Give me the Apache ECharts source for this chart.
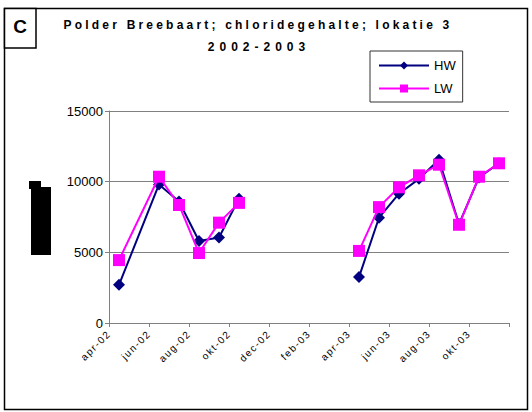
<!DOCTYPE html>
<html>
<head>
<meta charset="utf-8">
<script src="https://cdn.jsdelivr.net/npm/echarts@6/dist/echarts.min.js"></script>
<style>
  html, body { margin: 0; padding: 0; background: #fff; }
  #chart { width: 532px; height: 412px; }
</style>
</head>
<body>
<div id="chart"></div>
<script>
// Month slots on the time axis (one slot per month)
const months = ['apr-02','mei-02','jun-02','jul-02','aug-02','sep-02','okt-02','nov-02','dec-02','jan-03',
                'feb-03','mrt-03','apr-03','mei-03','jun-03','jul-03','aug-03','sep-03','okt-03','nov-03'];

// Sampling months; 'jan-03' has no sample and breaks the line over the winter
const sampleDates = ['apr-02','jun-02','jul-02','aug-02','sep-02','okt-02','jan-03',
                     'apr-03','mei-03','jun-03','jul-03','aug-03','sep-03','okt-03','nov-03'];

// Chloride content (mg/l) at high water (HW) and low water (LW)
const hw = [2700, 9800, 8600, 5800, 6050, 8800, null, 3250, 7450, 9150, 10200, 11550, 7000, 10300, 11300];
const lw = [4450, 10350, 8350, 4950, 7100, 8500, null, 5100, 8200, 9600, 10450, 11200, 6950, 10350, 11300];

const yTicks = [0, 5000, 10000, 15000];

const FONT = '"Liberation Sans", Arial, sans-serif';

// Each sample sits in the middle of its month slot
function toPoints(values) {
  return sampleDates.map((d, i) => {
    const x = months.indexOf(d) + 0.5;
    return values[i] == null ? [x, '-'] : [x, values[i]];
  });
}

const chart = echarts.init(document.getElementById('chart'), null, { renderer: 'svg' });

chart.setOption({
  animation: false,
  backgroundColor: '#fff',
  grid: { left: 109, right: 23, top: 111, bottom: 89, containLabel: false },
  xAxis: {
    type: 'value',
    min: 0,
    max: months.length,
    interval: 2,
    axisLine: { show: true, lineStyle: { color: '#808080', width: 1 } },
    axisTick: { show: true, length: 4, lineStyle: { color: '#808080' } },
    splitLine: { show: false },
    axisLabel: {
      rotate: 45,
      margin: 9,
      fontSize: 10,
      fontFamily: FONT,
      color: '#000',
      showMaxLabel: true,
      formatter: v => (v < months.length ? months[v] : '')
    }
  },
  yAxis: {
    type: 'value',
    min: yTicks[0],
    max: yTicks[yTicks.length - 1],
    interval: yTicks[1] - yTicks[0],
    axisLine: { show: true, lineStyle: { color: '#808080', width: 1 } },
    axisTick: { show: true, length: 4, lineStyle: { color: '#808080' } },
    splitLine: { show: true, lineStyle: { color: '#808080', width: 1 } },
    axisLabel: { margin: 6, fontSize: 13, fontFamily: FONT, color: '#000', formatter: v => String(v) }
  },
  legend: {
    orient: 'vertical',
    left: 370,
    top: 51,
    padding: [8, 7, 7, 8],
    itemGap: 10,
    itemWidth: 50,
    itemHeight: 10,
    borderColor: '#333',
    borderWidth: 1,
    textStyle: { fontSize: 13, fontFamily: FONT, color: '#000' },
    data: ['HW', 'LW']
  },
  series: [
    {
      name: 'HW',
      type: 'line',
      data: toPoints(hw),
      connectNulls: false,
      symbol: 'diamond',
      symbolSize: 12,
      lineStyle: { color: '#000080', width: 2 },
      itemStyle: { color: '#000080' },
      z: 2
    },
    {
      name: 'LW',
      type: 'line',
      data: toPoints(lw),
      connectNulls: false,
      symbol: 'rect',
      symbolSize: 12,
      lineStyle: { color: '#ff00ff', width: 2 },
      itemStyle: { color: '#ff00ff' },
      z: 3
    }
  ],
  graphic: [
    // outer frame and panel letter box
    { type: 'rect', shape: { x: 4.5, y: 8.5, width: 523, height: 401 }, style: { fill: 'none', stroke: '#000', lineWidth: 1.5 }, z: 0 },
    { type: 'rect', shape: { x: 4.5, y: 8.5, width: 31.5, height: 39.5 }, style: { fill: '#fff', stroke: '#000', lineWidth: 1.5 }, z: 1 },
    { type: 'text', style: { text: 'C', x: 20, y: 26, textAlign: 'center', textVerticalAlign: 'middle', font: 'bold 19px ' + FONT, fill: '#000' }, z: 2 },
    // titles
    { type: 'text', id: 'title1', style: { text: 'Polder Breebaart; chloridegehalte; lokatie 3', x: 258, y: 25, textAlign: 'center', textVerticalAlign: 'middle', font: 'bold 12px ' + FONT, fill: '#000' } },
    { type: 'text', id: 'title2', style: { text: '2002-2003', x: 259, y: 46.5, textAlign: 'center', textVerticalAlign: 'middle', font: 'bold 12px ' + FONT, fill: '#000' } },
    // axis title block
    { type: 'rect', shape: { x: 29, y: 181, width: 12, height: 8 }, style: { fill: '#000' } },
    { type: 'rect', shape: { x: 31, y: 187, width: 20, height: 68 }, style: { fill: '#000' } }
  ]
});

// Spaced-out lettering for the title lines and the date labels
const spacing = {
  'Polder Breebaart; chloridegehalte; lokatie 3': '3.2px',
  '2002-2003': '5px'
};
document.querySelectorAll('#chart svg text').forEach(t => {
  const s = t.textContent;
  if (spacing[s]) t.style.letterSpacing = spacing[s];
  else if (months.indexOf(s) >= 0) t.style.letterSpacing = '1.5px';
});
</script>
</body>
</html>
